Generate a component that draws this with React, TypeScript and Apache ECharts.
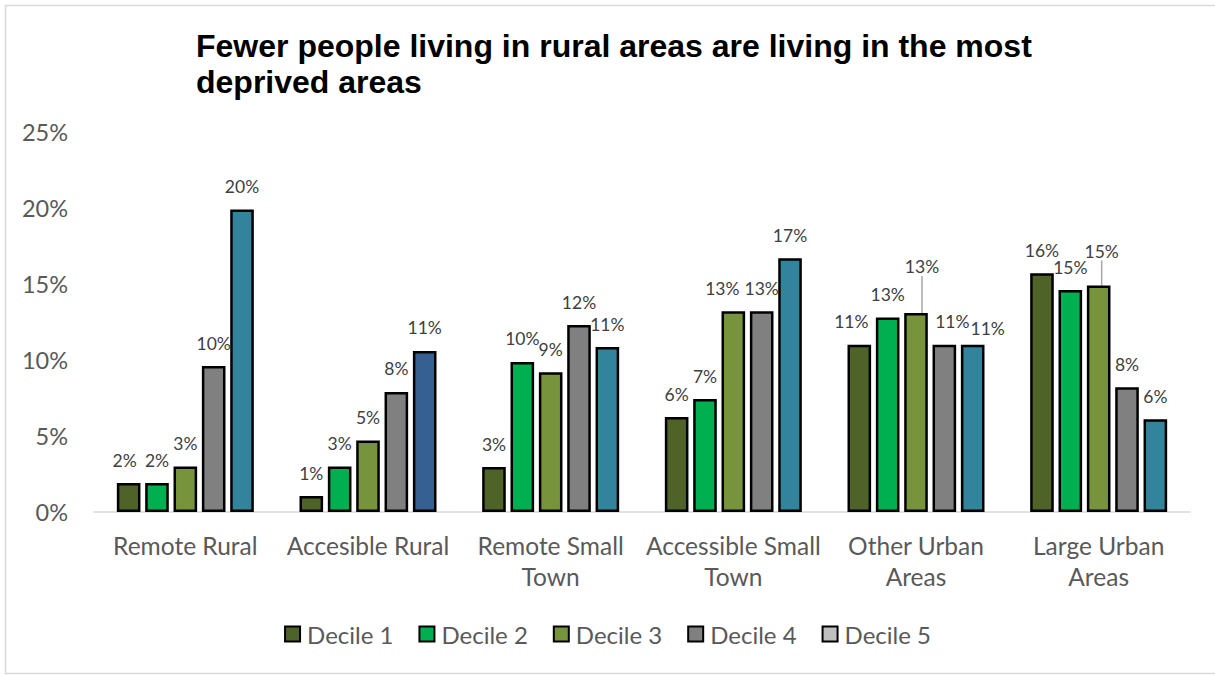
import React, { useEffect, useRef } from "react";
import * as echarts from "echarts";

const titleText = "Fewer people living in rural areas are living in the most\ndeprived areas";

const categories = [
  "Remote Rural",
  "Accesible Rural",
  "Remote Small Town",
  "Accessible Small Town",
  "Other Urban Areas",
  "Large Urban Areas",
];
const categoryLabels = [
  "Remote Rural",
  "Accesible Rural",
  "Remote Small\nTown",
  "Accessible Small\nTown",
  "Other Urban\nAreas",
  "Large Urban\nAreas",
];

const seriesNames = ["Decile 1", "Decile 2", "Decile 3", "Decile 4", "Decile 5"];

const decile1 = [1.9, 1.05, 2.96, 6.25, 11.0, 15.7];
const decile2 = [1.9, 3.0, 9.87, 7.43, 12.8, 14.6];
const decile3 = [3.0, 4.7, 9.2, 13.2, 13.1, 14.9];
const decile4 = [9.6, 7.9, 12.3, 13.2, 11.0, 8.2];
const decile5 = [19.9, 10.6, 10.85, 16.7, 11.0, 6.1];

const yTicks = [0, 5, 10, 15, 20, 25];

const seriesColors = ["#4F6228", "#00B050", "#77933C", "#808080", "#BFBFBF"];
const decile5BarColors = ["#31849B", "#376092", "#31849B", "#31849B", "#31849B", "#31849B"];

// label adjustments: [seriesIndex, dataIndex, dx, dy, leaderLine]
const labelAdjust: [number, number, number, number, boolean][] = [
  [0, 0, -4, 0, false],
  [0, 4, -8, 0, false],
  [2, 3, -11, 0, false],
  [2, 4, 6, -23, true],
  [3, 4, 8, 0, false],
  [4, 4, 15, 7, false],
  [2, 5, 3, -11, true],
];

const FONT = "Lato";

export default function App() {
  const ref = useRef<HTMLDivElement>(null);

  useEffect(() => {
    if (!ref.current) return;
    const chart = echarts.init(ref.current, undefined, { renderer: "svg" });
    const all = [decile1, decile2, decile3, decile4, decile5];

    const series = all.map((vals, si) => ({
      name: seriesNames[si],
      type: "bar",
      barGap: "20%",
      barCategoryGap: "25%",
      itemStyle: {
        color: seriesColors[si],
        borderColor: "#000000",
        borderWidth: 2.5,
      },
      label: {
        show: true,
        position: "top",
        distance: 14,
        fontFamily: FONT,
        fontSize: 17.5,
        color: "#404040",
        formatter: (p: any) => Math.round(p.value) + "%",
      },
      labelLayout: (p: any) => {
        const adj = labelAdjust.find((a) => a[0] === si && a[1] === p.dataIndex);
        if (adj) return { dx: adj[2], dy: adj[3] };
        return {};
      },
      data: vals.map((v, di) => {
        const adj = labelAdjust.find((a) => a[0] === si && a[1] === di);
        const item: any = { value: v };
        if (si === 4) item.itemStyle = { color: decile5BarColors[di] };
        if (adj && adj[4]) {
          item.labelLine = {
            show: true,
            lineStyle: { color: "#A6A6A6", width: 1.5 },
          };
        }
        return item;
      }),
    }));

    chart.setOption({
      animation: false,
      backgroundColor: "#FFFFFF",
      title: {
        text: titleText,
        left: 196,
        top: 28,
        padding: 0,
        textStyle: {
          fontFamily: "Liberation Sans",
          fontWeight: "bold",
          fontSize: 32,
          lineHeight: 36,
          color: "#000000",
        },
      },
      graphic: [
        {
          type: "rect",
          shape: { x: 5.5, y: 5.5, width: 1215, height: 668 },
          style: { fill: "none", stroke: "#D9D9D9", lineWidth: 1.5 },
          silent: true,
        },
      ],
      legend: {
        data: seriesNames,
        left: "center",
        top: 614,
        icon: "rect",
        itemWidth: 15,
        itemHeight: 15,
        itemGap: 25,
        textStyle: {
          fontFamily: FONT,
          fontSize: 24,
          color: "#595959",
          lineHeight: 30,
          padding: [0, 0, 0, 2],
        },
        itemStyle: { borderColor: "#000000", borderWidth: 2 },
      },
      grid: { left: 94, right: 25, top: 132, bottom: 163, containLabel: false },
      xAxis: {
        type: "category",
        data: categories,
        axisLine: { show: true, lineStyle: { color: "#D9D9D9", width: 1.5 } },
        axisTick: { show: false },
        axisLabel: {
          fontFamily: FONT,
          fontSize: 24.5,
          color: "#595959",
          lineHeight: 31,
          margin: 18,
          interval: 0,
          formatter: (v: string) => categoryLabels[categories.indexOf(v)],
        },
      },
      yAxis: {
        type: "value",
        min: yTicks[0],
        max: yTicks[yTicks.length - 1],
        interval: 5,
        axisLine: { show: false },
        axisTick: { show: false },
        splitLine: { show: false },
        axisLabel: {
          fontFamily: FONT,
          fontSize: 23.5,
          color: "#595959",
          margin: 26,
          formatter: (v: number) => v + "%",
        },
      },
      series,
    });

    return () => chart.dispose();
  }, []);

  return (
    <div
      ref={ref}
      style={{ position: "fixed", left: 0, top: 0, width: 1215, height: 675 }}
    />
  );
}
